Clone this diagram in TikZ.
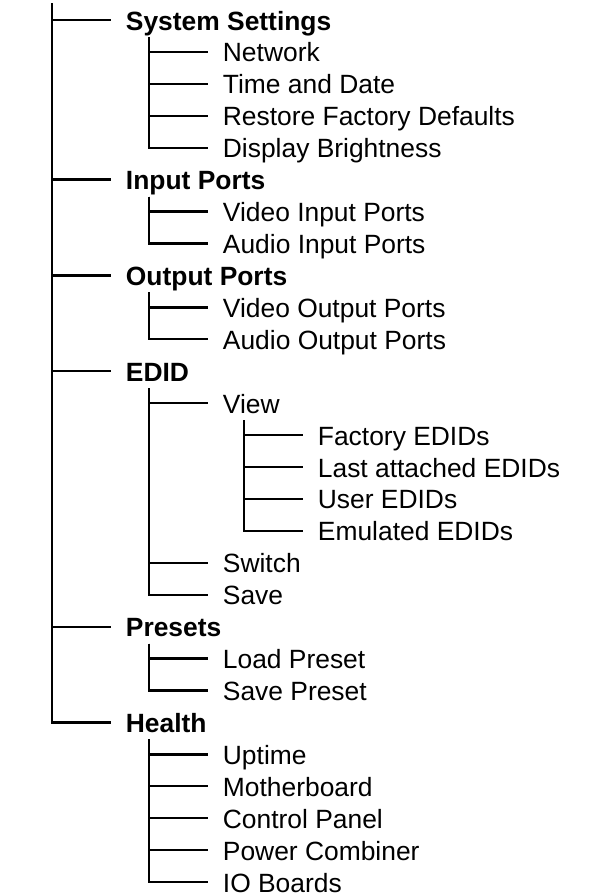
\documentclass[tikz,border=0pt]{standalone}
\usepackage{fontspec}
\setmainfont{Liberation Sans}
\usetikzlibrary{calc}

\tikzset{
  item/.style={anchor=west, inner xsep=11pt, inner ysep=0pt,
               text height=18pt, text depth=3pt,
               font=\fontsize{19.8}{23}\selectfont},
  head/.style={item, font=\fontsize{19.8}{23}\selectfont\bfseries},
  branch/.style={line width=1.75pt}
}

\begin{document}
\begin{tikzpicture}[x=0.75pt,y=-0.75pt]
  \useasboundingbox (0,0) rectangle (595,894);
  \def\dy{31.93}
  \def\yo{20}
  % x of the trunks, one per level
  \def\xa{52}
  \def\xb{149}
  \def\xc{244}
  \def\len{59}

  \coordinate (top) at (\xa,3);

  % level 1
  \foreach \n/\lbl/\r in {sys/System Settings/0, inp/Input Ports/5,
      outp/Output Ports/8, edid/EDID/11, pre/Presets/19, hlth/Health/22}{
    \node[head] (\n) at (\xa+\len,\r*\dy+\yo) {\lbl};
    \coordinate (\n-t) at (\xb,\r*\dy+\yo+17);
    \draw[branch] (top) |- (\n.west);
  }

  % level 2
  \foreach \p/\n/\lbl/\r in {
      sys/net/Network/1,
      sys/time/Time and Date/2,
      sys/reset/Restore Factory Defaults/3,
      sys/disp/Display Brightness/4,
      inp/vin/Video Input Ports/6,
      inp/ain/Audio Input Ports/7,
      outp/vout/Video Output Ports/9,
      outp/aout/Audio Output Ports/10,
      edid/view/View/12,
      edid/switch/Switch/17,
      edid/save/Save/18,
      pre/load/Load Preset/20,
      pre/savep/Save Preset/21,
      hlth/up/Uptime/23,
      hlth/mb/Motherboard/24,
      hlth/cp/Control Panel/25,
      hlth/pc/Power Combiner/26,
      hlth/io/IO Boards/27}{
    \node[item] (\n) at (\xb+\len,\r*\dy+\yo) {\lbl};
    \coordinate (\n-t) at (\xc,\r*\dy+\yo+17);
    \draw[branch] (\p-t) |- (\n.west);
  }

  % level 3
  \foreach \p/\n/\lbl/\r in {
      view/fact/Factory EDIDs/13,
      view/last/Last attached EDIDs/14,
      view/user/User EDIDs/15,
      view/emu/Emulated EDIDs/16}{
    \node[item] (\n) at (\xc+\len,\r*\dy+\yo) {\lbl};
    \draw[branch] (\p-t) |- (\n.west);
  }
\end{tikzpicture}
\end{document}
